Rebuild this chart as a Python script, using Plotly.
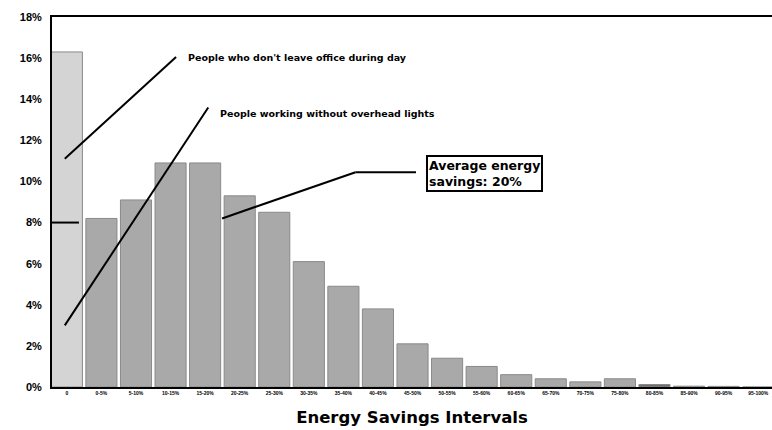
import plotly.graph_objects as go

categories = ["0", "0-5%", "5-10%", "10-15%", "15-20%", "20-25%", "25-30%", "30-35%",
              "35-40%", "40-45%", "45-50%", "50-55%", "55-60%", "60-65%", "65-70%",
              "70-75%", "75-80%", "80-85%", "85-90%", "90-95%", "95-100%"]
share_pct = [16.3, 8.2, 9.1, 10.9, 10.9, 9.3, 8.5, 6.1, 4.9, 3.8, 2.1, 1.4, 1.0,
             0.6, 0.4, 0.25, 0.4, 0.12, 0.04, 0.03, 0.0]
y_ticks = [0, 2, 4, 6, 8, 10, 12, 14, 16, 18]
y_tick_labels = [f"{v}%" for v in y_ticks]

xs = list(range(len(categories)))
colors = ["#d4d4d4"] + ["#a9a9a9"] * (len(categories) - 1)
colors[17] = "#6e6e6e"

fig = go.Figure()
fig.add_trace(go.Bar(
    x=xs, y=share_pct, width=0.9,
    marker=dict(color=colors, line=dict(color="#8a8a8a", width=1)),
    showlegend=False, hoverinfo="skip",
))

line_style = dict(color="black", width=2)
# 8% marker on first bar
fig.add_shape(type="line", xref="x", yref="y", x0=-0.43, x1=0.35, y0=8, y1=8, line=line_style)
# callout lines
fig.add_shape(type="line", xref="x", yref="y", x0=-0.06, y0=11.1, x1=3.16, y1=16.05, line=line_style)
fig.add_shape(type="line", xref="x", yref="y", x0=-0.06, y0=3.0, x1=4.09, y1=13.6, line=line_style)
fig.add_shape(type="line", xref="x", yref="y", x0=4.49, y0=8.2, x1=8.35, y1=10.45, line=line_style)
fig.add_shape(type="line", xref="x", yref="y", x0=8.35, y0=10.45, x1=10.1, y1=10.45, line=line_style)

note_font = dict(family="DejaVu Sans", size=9.5, color="black", weight="bold")
fig.add_annotation(xref="x", yref="y", x=3.45, y=16.05, text="People who don't leave office during day",
                   showarrow=False, xanchor="left", yanchor="middle", font=note_font)
fig.add_annotation(xref="x", yref="y", x=4.38, y=13.3, text="People working without overhead lights",
                   showarrow=False, xanchor="left", yanchor="middle", font=note_font)
fig.add_annotation(xref="x", yref="y", x=10.4, y=10.4,
                   text="Average energy<br>savings: 20%",
                   showarrow=False, xanchor="left", yanchor="middle", align="left",
                   font=dict(family="DejaVu Sans", size=12.5, color="black", weight="bold"),
                   bordercolor="black", borderwidth=2, borderpad=1, bgcolor="white")

fig.update_layout(
    width=772, height=430,
    margin=dict(l=52, r=0, t=17, b=43),
    paper_bgcolor="white", plot_bgcolor="white",
    bargap=0.1,
    xaxis=dict(
        range=[-0.43, 20.4], tickmode="array", tickvals=xs, ticktext=categories,
        tickfont=dict(family="Liberation Sans, Arial", size=5, color="black", weight="bold"),
        showline=True, linecolor="black", linewidth=2, mirror=True,
        showgrid=False, zeroline=False, ticks="",
        title=dict(text="Energy Savings Intervals", standoff=16,
                   font=dict(family="DejaVu Sans", size=16.5, color="black", weight="bold")),
    ),
    yaxis=dict(
        range=[0, 18], tickmode="array", tickvals=y_ticks, ticktext=y_tick_labels,
        tickfont=dict(family="Liberation Sans, Arial", size=11, color="black", weight="bold"),
        showline=True, linecolor="black", linewidth=2,
        showgrid=False, zeroline=False, ticks="", ticklabelstandoff=6,
    ),
)

fig.write_html("out.html")
